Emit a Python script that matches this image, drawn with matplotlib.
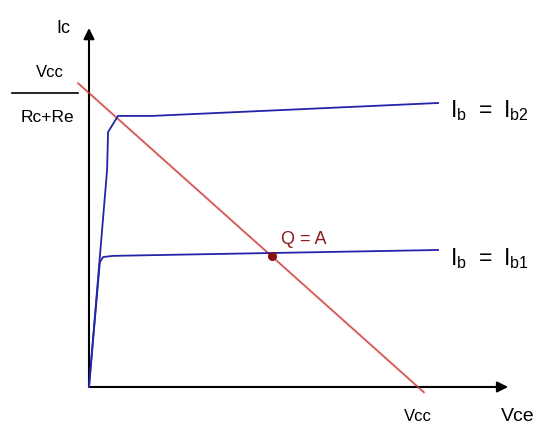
import numpy as np
import matplotlib.pyplot as plt

plt.rcParams['font.family'] = ['Liberation Sans', 'DejaVu Sans']
plt.rcParams['mathtext.fontset'] = 'custom'
plt.rcParams['mathtext.rm'] = 'Liberation Sans'

# transistor output characteristics (Vce in V, Ic in mA)
vcc = 10.0
ic_sat = 10.0  # Vcc / (Rc + Re)

vce_ib2 = [0.0, 0.55, 0.58, 0.88, 1.91, 10.61]
ic_ib2 = [0.0, 7.38, 8.67, 9.22, 9.22, 9.66]

vce_ib1 = [0.0, 0.33, 0.43, 0.73, 10.61]
ic_ib1 = [0.0, 4.25, 4.42, 4.46, 4.66]

load_vce = [-0.33, 10.18]
q_vce = 5.56

fig = plt.figure(figsize=(5.39, 4.29), dpi=100)
ax = fig.add_axes([0, 0, 1, 1])
ax.set_xlim(-2.705, 13.678)
ax.set_ylim(-1.429, 13.163)
ax.axis('off')

# axes with arrows
ax.annotate('', xy=(12.74, 0), xytext=(0, 0),
            arrowprops=dict(arrowstyle='-|>', color='black', lw=1.5,
                            mutation_scale=16, shrinkA=0, shrinkB=0))
ax.annotate('', xy=(0, 12.21), xytext=(0, 0),
            arrowprops=dict(arrowstyle='-|>', color='black', lw=1.5,
                            mutation_scale=16, shrinkA=0, shrinkB=0))

# load line
lv = np.array(load_vce)
ax.plot(lv, ic_sat * (1 - lv / vcc), color='#f8d4d4', lw=2.2, zorder=2)
ax.plot(lv, ic_sat * (1 - lv / vcc), color='#c84040', lw=0.9, zorder=3)

# characteristic curves
ax.plot(vce_ib2, ic_ib2, color='#2424a8', lw=1.3, zorder=4)
ax.plot(vce_ib1, ic_ib1, color='#2424a8', lw=1.3, zorder=4)

# Q point
ax.plot([q_vce], [ic_sat * (1 - q_vce / vcc)], 'o', color='#8b1010',
        markersize=5.5, zorder=5)
ax.text(6.53, 5.0, 'Q = A', color='#8b1a1a', fontsize=13,
        ha='center', va='center')

# labels
ax.text(-0.79, 12.21, 'Ic', fontsize=13, ha='center', va='center')
ax.text(-1.19, 10.68, 'Vcc', fontsize=12, ha='center', va='center')
ax.plot([-2.34, -0.33], [ic_sat, ic_sat], color='black', lw=1.2)
ax.text(-1.25, 9.18, 'Rc+Re', fontsize=12.5, ha='center', va='center')
ax.text(10.0, -1.02, 'Vcc', fontsize=12, ha='center', va='center')
ax.text(13.04, -1.02, 'Vce', fontsize=14, ha='center', va='center')

ax.text(10.97, 9.18, r'$\mathrm{I_b\ =\ I_{b2}}$', fontsize=16.5,
        ha='left', va='baseline')
ax.text(10.97, 4.15, r'$\mathrm{I_b\ =\ I_{b1}}$', fontsize=16.5,
        ha='left', va='baseline')

fig.savefig('out.png', dpi=100)
